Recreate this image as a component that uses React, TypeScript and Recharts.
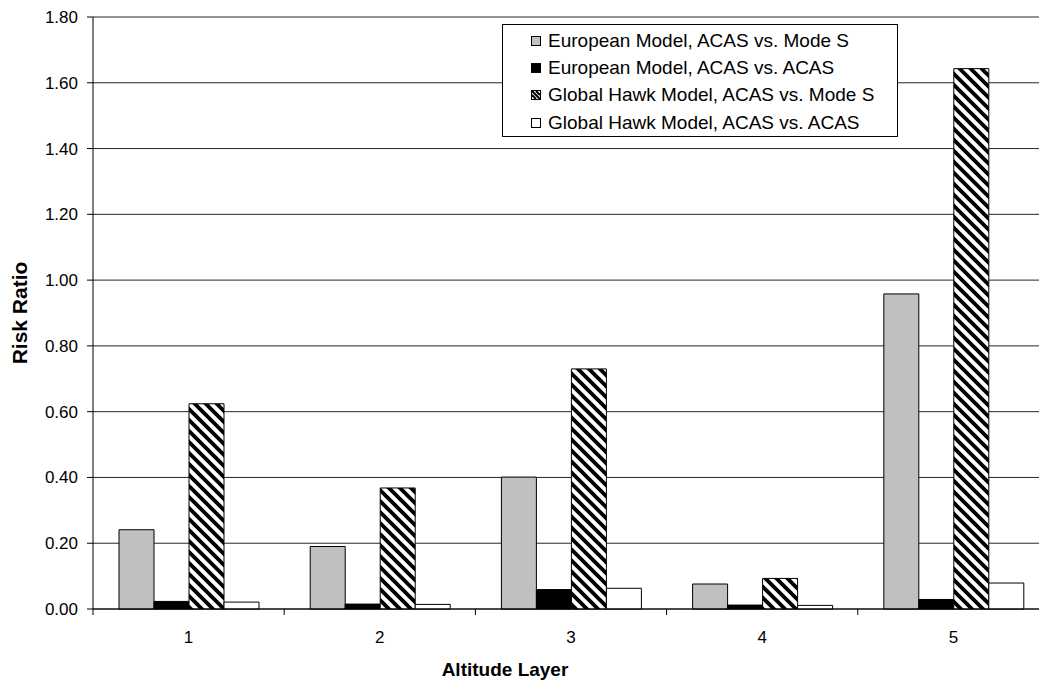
import { BarChart, Bar, XAxis, YAxis, CartesianGrid } from 'recharts';

const FONT = '"Liberation Sans", Arial, Helvetica, sans-serif';

// Altitude layers and the risk ratio for each model / encounter type
const layers = ['1', '2', '3', '4', '5'];
const euroModeS = [0.241, 0.19, 0.401, 0.076, 0.958];
const euroAcas = [0.023, 0.015, 0.059, 0.012, 0.029];
const hawkModeS = [0.624, 0.368, 0.73, 0.093, 1.643];
const hawkAcas = [0.021, 0.014, 0.063, 0.011, 0.079];
const yTicks = [0, 0.2, 0.4, 0.6, 0.8, 1.0, 1.2, 1.4, 1.6, 1.8];

const series = [
  { key: 'euroModeS', name: 'European Model, ACAS vs. Mode S', fill: '#c0c0c0' },
  { key: 'euroAcas', name: 'European Model, ACAS vs. ACAS', fill: '#000000' },
  { key: 'hawkModeS', name: 'Global Hawk Model, ACAS vs. Mode S', fill: 'url(#hatch)' },
  { key: 'hawkAcas', name: 'Global Hawk Model, ACAS vs. ACAS', fill: '#ffffff' },
];

const data = layers.map((layer, i) => ({
  layer,
  euroModeS: euroModeS[i],
  euroAcas: euroAcas[i],
  hawkModeS: hawkModeS[i],
  hawkAcas: hawkAcas[i],
}));

// category label in the middle, tick mark on the left boundary of each band
function LayerTick(props: any) {
  const { x, y, payload } = props;
  const half = payload.offset ?? 95.6;
  return (
    <g>
      <line x1={x - half} x2={x - half} y1={y - 6} y2={y} stroke="#000" />
      <text
        x={x}
        y={y + 28}
        textAnchor="middle"
        fontSize={17}
        fontFamily={FONT}
        fill="#000"
      >
        {payload.value}
      </text>
    </g>
  );
}

function Swatch({ fill }: { fill: string }) {
  return (
    <svg width={10} height={10} style={{ flexShrink: 0 }}>
      {fill === 'url(#hatch)' ? (
        <>
          <rect x={0.5} y={0.5} width={9} height={9} fill="#fff" stroke="#000" />
          <path d="M1,1 L9,9 M1,5 L5,9 M5,1 L9,5" stroke="#000" strokeWidth={2} />
        </>
      ) : (
        <rect x={0.5} y={0.5} width={9} height={9} fill={fill} stroke="#000" />
      )}
    </svg>
  );
}

export default function App() {
  return (
    <div
      style={{
        position: 'absolute',
        left: 0,
        top: 0,
        width: 1039,
        height: 684,
        overflow: 'hidden',
        background: '#fff',
      }}
    >
      <BarChart
        width={1060}
        height={684}
        data={data}
        margin={{ top: 17, right: 11, left: 0, bottom: 0 }}
        barCategoryGap="13.6%"
        barGap={0}
      >
        <defs>
          <pattern id="hatch" patternUnits="userSpaceOnUse" width={11} height={11}>
            <rect width={11} height={11} fill="#fff" />
            <path
              d="M-3,-3 L14,14 M-3,8 L3,14 M8,-3 L14,3"
              stroke="#000"
              strokeWidth={3.8}
            />
          </pattern>
        </defs>
        <CartesianGrid vertical={false} stroke="#000" strokeOpacity={0.85} />
        <XAxis
          dataKey="layer"
          height={75}
          axisLine={{ stroke: '#000' }}
          tickLine={false}
          tickSize={6}
          tickMargin={0}
          tick={<LayerTick />}
          interval={0}
          label={{
            content: () => (
              <text
                x={505}
                y={669}
                textAnchor="middle"
                dominantBaseline="central"
                fontSize={19}
                fontWeight="bold"
                fontFamily={FONT}
                fill="#000"
              >
                Altitude Layer
              </text>
            ),
          }}
        />
        <YAxis
          width={93}
          domain={[0, 1.8]}
          ticks={yTicks}
          interval={0}
          tickFormatter={(v: number) => v.toFixed(2)}
          axisLine={{ stroke: '#000' }}
          tickLine={{ stroke: '#000' }}
          tickSize={6}
          tickMargin={9}
          tick={{ fontSize: 17, fontFamily: FONT, fill: '#000' }}
          label={{
            content: (p: any) => {
              const vb = p.viewBox || { y: 17, height: 592 };
              const cy = vb.y + vb.height / 2;
              return (
                <text
                  x={19}
                  y={cy}
                  transform={`rotate(-90 19 ${cy})`}
                  textAnchor="middle"
                  dominantBaseline="central"
                  fontSize={21}
                  fontWeight="bold"
                  fontFamily={FONT}
                  fill="#000"
                >
                  Risk Ratio
                </text>
              );
            },
          }}
        />
        {series.map((s) => (
          <Bar
            key={s.key}
            dataKey={s.key}
            name={s.name}
            fill={s.fill}
            stroke="#000"
            strokeWidth={1}
            isAnimationActive={false}
          />
        ))}
      </BarChart>

      {/* legend box */}
      <div
        style={{
          position: 'absolute',
          left: 502,
          top: 24,
          width: 396,
          height: 113,
          boxSizing: 'border-box',
          border: '1px solid #000',
          background: '#fff',
          paddingTop: 2,
          fontFamily: FONT,
          fontSize: 19,
          color: '#000',
        }}
      >
        {series.map((s) => (
          <div
            key={s.key}
            style={{
              display: 'flex',
              alignItems: 'center',
              height: 27.3,
              paddingLeft: 28,
              gap: 7,
              whiteSpace: 'nowrap',
            }}
          >
            <Swatch fill={s.fill} />
            <span>{s.name}</span>
          </div>
        ))}
      </div>
    </div>
  );
}
